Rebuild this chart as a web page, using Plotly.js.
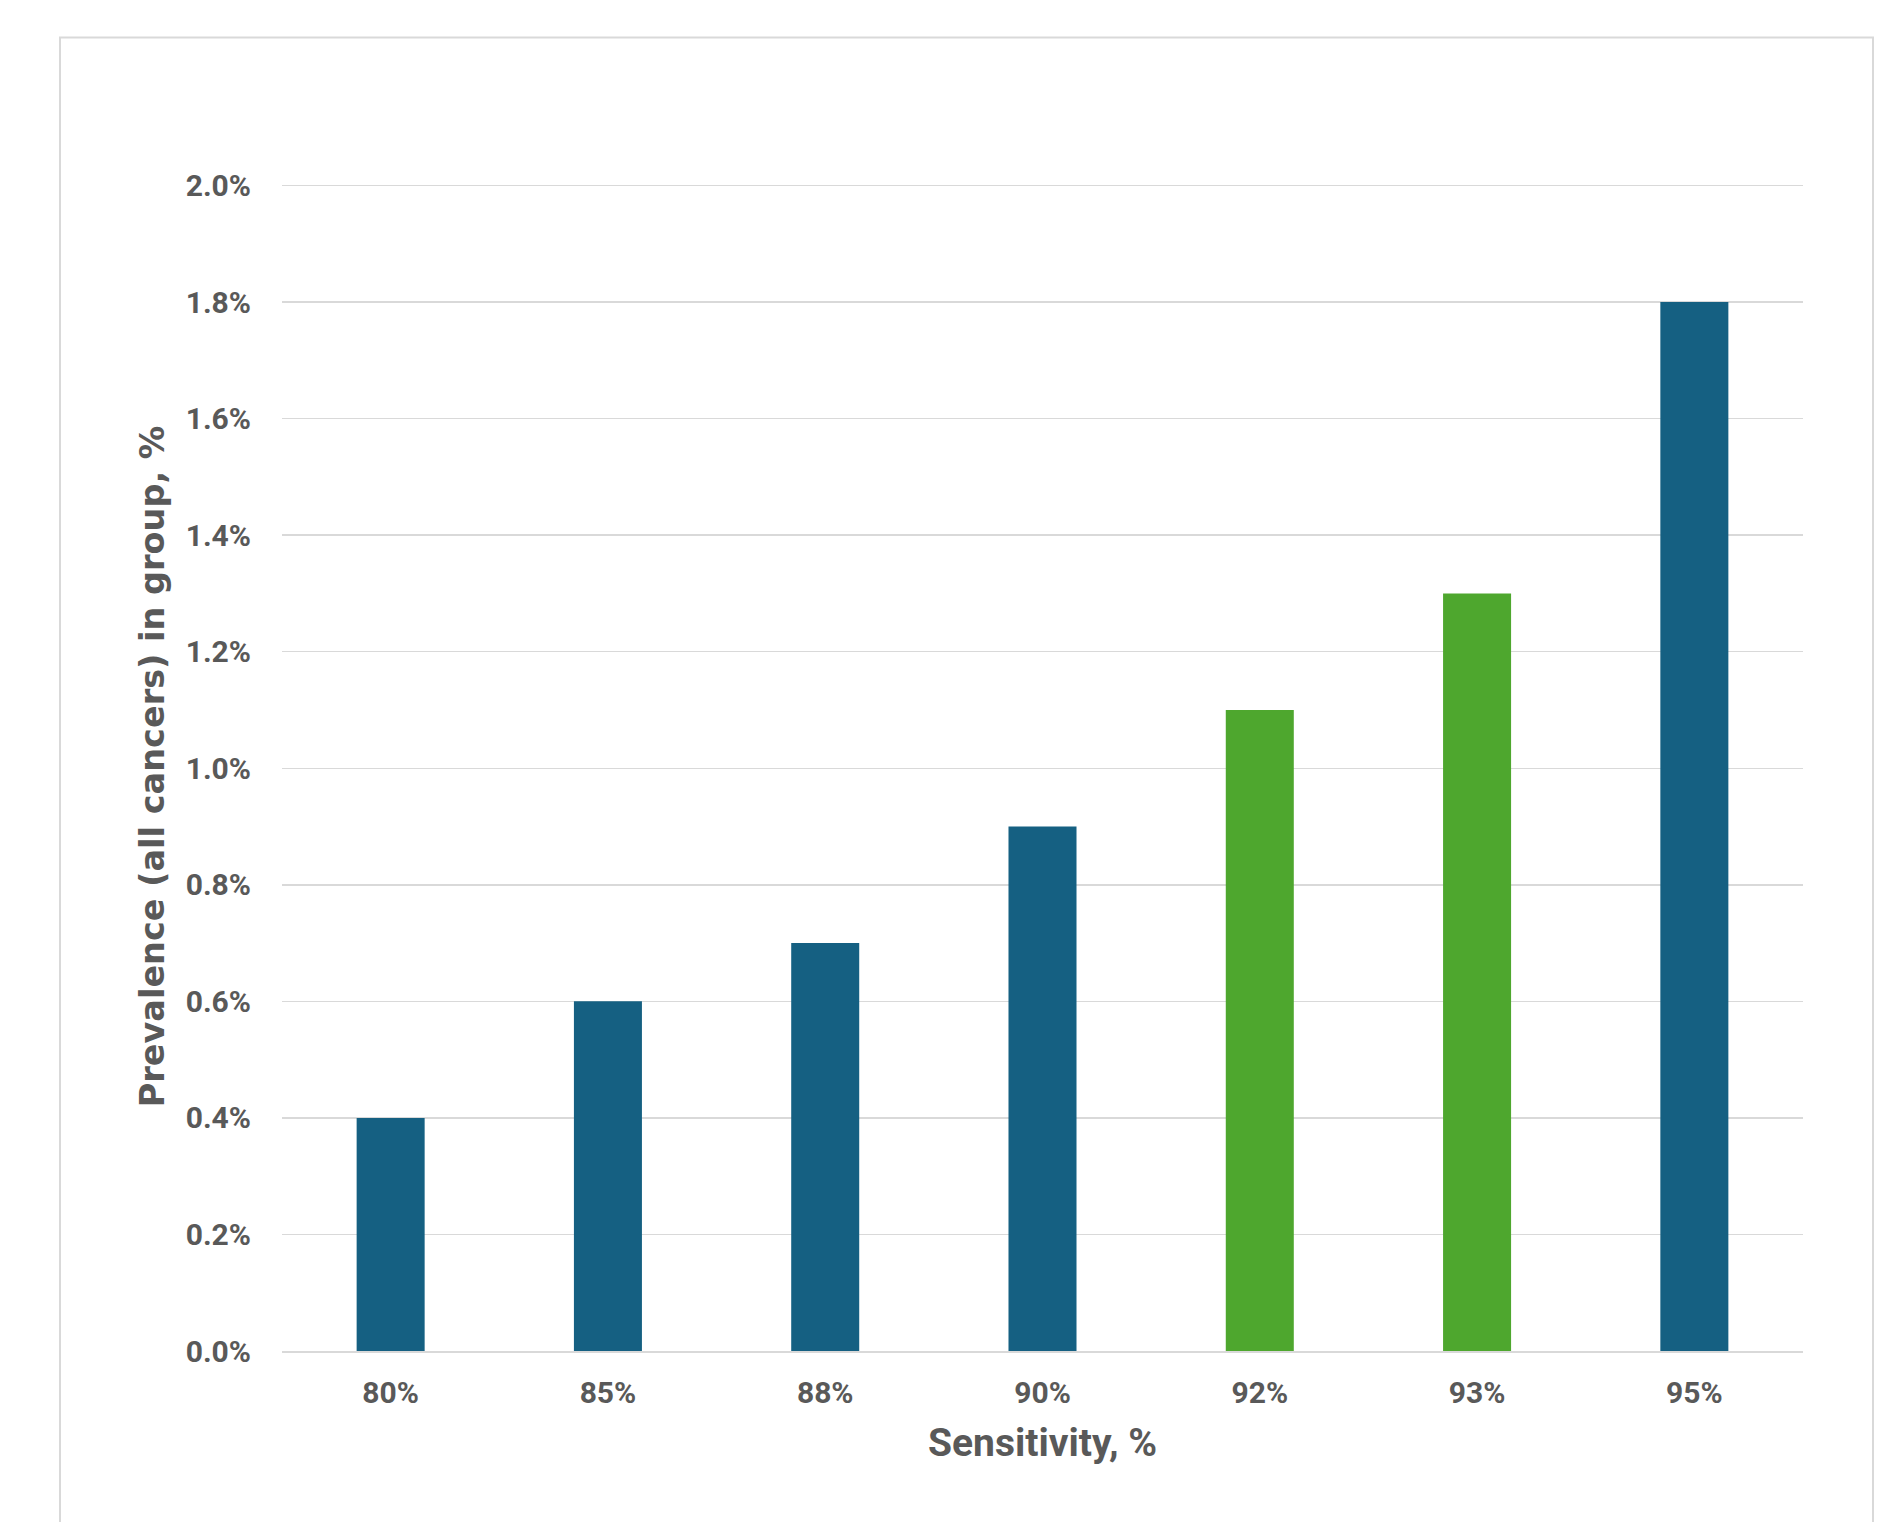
<!DOCTYPE html>
<html>
<head>
<meta charset="utf-8">
<script src="https://cdn.plot.ly/plotly-3.0.1.min.js"></script>
<style>
  html, body { margin: 0; padding: 0; background: #ffffff; }
  #chart { width: 1889px; height: 1522px; }
</style>
</head>
<body>
<div id="chart"></div>
<script>
// ---- Data ----
const sensitivity = ["80%", "85%", "88%", "90%", "92%", "93%", "95%"];
const prevalence = [0.4, 0.6, 0.7, 0.9, 1.1, 1.3, 1.8];
const barColors = ["#156082", "#156082", "#156082", "#156082", "#4EA72E", "#4EA72E", "#156082"];
const yTickValues = [0, 0.2, 0.4, 0.6, 0.8, 1.0, 1.2, 1.4, 1.6, 1.8, 2.0];
const yTickLabels = ["0.0%", "0.2%", "0.4%", "0.6%", "0.8%", "1.0%", "1.2%", "1.4%", "1.6%", "1.8%", "2.0%"];
const xTitle = "Sensitivity, %";
const yTitle = "Prevalence (all cancers) in group, %";

// ---- Layout geometry (pixels) ----
const W = 1889, H = 1522;
const yTop = 2.0, yMax = 2.006;           // small headroom so the 2.0% gridline is kept
const plotL = 282, plotR = 1803, plotB = 1351, topLineY = 185;
const plotT = plotB - (plotB - topLineY) * yMax / yTop;
const frameL = 60, frameT = 37, frameR = 1873, frameB = 1600;
const pw = plotR - plotL, ph = plotB - plotT;
const px = v => (v - plotL) / pw;
const py = v => (plotB - v) / ph;

const textColor = "#595959";
const fontFam = "Roboto, 'Liberation Sans', Arial, sans-serif";
const wideFam = "'DejaVu Sans', Roboto, Arial, sans-serif";

const trace = {
  type: "bar",
  x: sensitivity,
  y: prevalence,
  marker: { color: barColors, line: { width: 0 } },
  hoverinfo: "x+y"
};

const layout = {
  width: W,
  height: H,
  paper_bgcolor: "#ffffff",
  plot_bgcolor: "#ffffff",
  margin: { l: plotL, r: W - plotR, t: plotT, b: H - plotB, autoexpand: false },
  bargap: 0.687,
  showlegend: false,
  font: { family: fontFam, color: textColor },
  xaxis: {
    type: "category",
    showgrid: false,
    showline: true,
    linecolor: "#D9D9D9",
    linewidth: 2,
    ticks: "",
    ticklabelstandoff: 14,
    tickfont: { family: fontFam, size: 30, color: textColor, weight: "bold" },
    title: { text: xTitle, standoff: 20, font: { family: fontFam, size: 39, color: textColor, weight: "bold" } },
    fixedrange: true
  },
  yaxis: {
    range: [0, yMax],
    tickmode: "array",
    tickvals: yTickValues,
    ticktext: yTickLabels,
    showgrid: true,
    gridcolor: "#D9D9D9",
    gridwidth: 1.5,
    zeroline: false,
    showline: false,
    ticks: "",
    ticklabelstandoff: 30,
    tickfont: { family: fontFam, size: 30, color: textColor, weight: "bold" },
    title: { text: yTitle, standoff: 10, font: { family: wideFam, size: 33.5, color: textColor, weight: "bold" } },
    fixedrange: true
  },
  shapes: [
    {
      type: "rect",
      xref: "paper", yref: "paper",
      x0: px(frameL), x1: px(frameR),
      y0: py(frameB), y1: py(frameT),
      line: { color: "#D9D9D9", width: 2 },
      fillcolor: "rgba(0,0,0,0)",
      layer: "below"
    }
  ]
};

Plotly.newPlot("chart", [trace], layout, { displayModeBar: false, staticPlot: true });
</script>
</body>
</html>
